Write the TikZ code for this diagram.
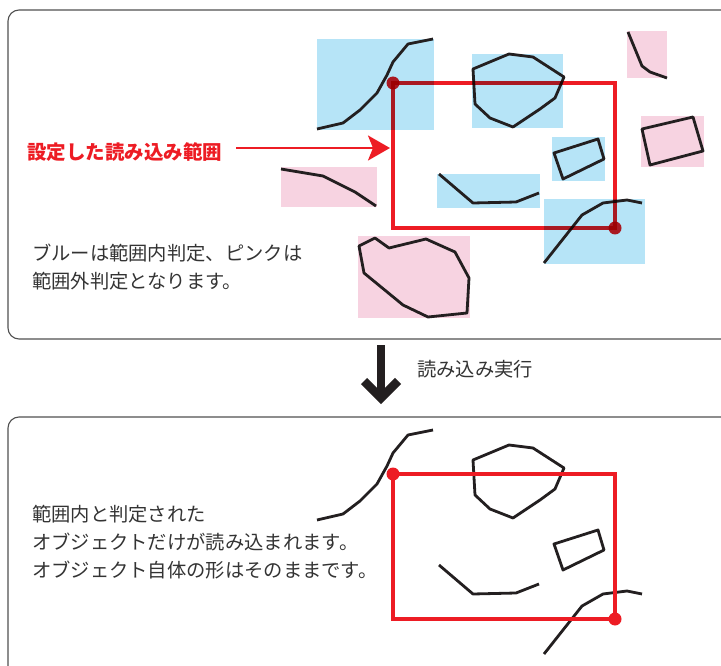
\documentclass[tikz,border=0pt]{standalone}
\usepackage{fontspec}
\newfontfamily\jp{Noto Sans CJK JP}
\usetikzlibrary{arrows.meta}
\definecolor{lblue}{RGB}{182,228,247}
\definecolor{lpink}{RGB}{247,211,225}
\definecolor{myred}{RGB}{237,28,36}
\definecolor{txt}{RGB}{51,51,51}
\definecolor{frame}{RGB}{80,80,80}
\definecolor{ink}{RGB}{35,31,32}
\newcommand\insideshapes{%
 \draw[obj] (317,129) -- (343,123) -- (360,110) -- (377,93) -- (387,75) -- (393,62) -- (408,44) -- (433,39);
 \draw[obj] (473,69) -- (509,54) -- (533,57) -- (564,77) -- (555,98) -- (540,109) -- (513,127) -- (490,118) -- (475,104) -- cycle;
 \draw[obj] (554,153) -- (598,139) -- (604,159) -- (563,179) -- cycle;
 \draw[obj] (439,174) -- (473,203) -- (516,202) -- (539,193);
 \draw[obj] (544,263) -- (582,215) -- (603,203) -- (627,200) -- (642,203);
}
\begin{document}
\begin{tikzpicture}[x=1pt,y=-1pt,
 panel/.style={draw=frame,line width=1.1,rounded corners=11},
 bluebox/.style={fill=lblue},
 pinkbox/.style={fill=lpink},
 obj/.style={draw=ink,line width=2.8,line join=round},
 redrect/.style={draw=myred,line width=3.8},
 reddot/.style={fill=myred,circle,inner sep=0,minimum size=13},
 body/.style={text=txt,font=\jp\fontsize{19.3}{28}\selectfont,align=left,inner sep=0,anchor=west}]
\useasboundingbox (0,0) rectangle (721,666);
\clip (0,0) rectangle (721,666);
% panels
\draw[panel] (8,10) rectangle (745,339);
\draw[panel] (8,417) rectangle (745,720);
% top panel: bounding boxes
\fill[bluebox] (317,39) rectangle (434,130);
\fill[bluebox] (472,54) rectangle (563,128);
\fill[bluebox] (552,137) rectangle (605,181);
\fill[bluebox] (437,174) rectangle (540,208);
\fill[bluebox] (544,199) rectangle (645,264);
\fill[pinkbox] (281,167) rectangle (377,207);
\fill[pinkbox] (627,31) rectangle (667,78);
\fill[pinkbox] (641,116) rectangle (704,167);
\fill[pinkbox] (358,236) rectangle (470,318);
% top panel: objects
\insideshapes
\draw[obj] (281,169) -- (323,176) -- (355,192) -- (376,206);
\draw[obj] (628,32) -- (642,66) -- (650,72) -- (667,78);
\draw[obj] (642,129) -- (693,117) -- (703,151) -- (650,165) -- cycle;
\draw[obj] (359,246) -- (375,238) -- (389,248) -- (426,239) -- (455,252) -- (469,278) -- (467,313) -- (428,317) -- (403,305) -- (364,273) -- cycle;
% top panel: read range
\begin{scope}[blend mode=multiply]
\node[reddot] (tl) at (393,83) {};
\node[reddot] (br) at (615,228) {};
\draw[redrect] (tl.center) rectangle (br.center);
\end{scope}
\node[anchor=west,inner sep=0,text=myred,font=\jp\bfseries\fontsize{19.5}{24}\selectfont] (lbl) at (27,152) {設定した読み込み範囲};
\coordinate (astart) at (236,148);
\coordinate (aend) at (390,148);
\draw[myred,line width=2.5,-{Stealth[length=22,width=25,inset=5]}] (astart) -- (aend);
\node[body] (note1) at (32,267.5) {\fontsize{19.3}{29}\selectfont ブルーは範囲内判定、ピンクは\\範囲外判定となります。};
% middle arrow
\coordinate (dtop) at (381,345);
\coordinate (dtip) at (381,398);
\draw[ink,line width=8.5] (dtop) -- (dtip);
\draw[ink,line width=8.5,miter limit=10] (364,381) -- (dtip) -- (398,381);
\node[body] (exec) at (417,369) {読み込み実行};
% bottom panel
\node[body] (note2) at (32,542) {\fontsize{19.3}{27}\selectfont 範囲内と判定された\\オブジェクトだけが読み込まれます。\\オブジェクト自体の形はそのままです。};
\begin{scope}[yshift=-391pt]
\insideshapes
\node[reddot] (tl2) at (393,83) {};
\node[reddot] (br2) at (615,228) {};
\draw[redrect] (tl2.center) rectangle (br2.center);
\end{scope}
\end{tikzpicture}
\end{document}
